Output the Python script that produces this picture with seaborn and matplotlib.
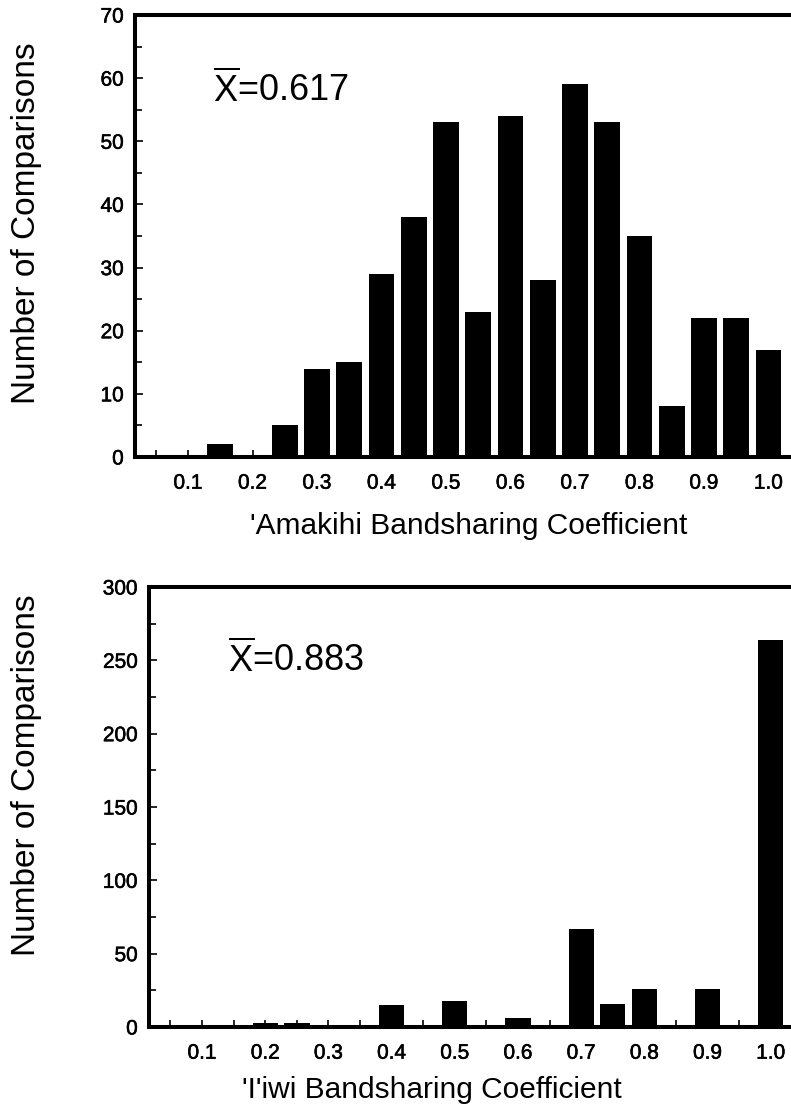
import numpy as np
import pandas as pd
import matplotlib
matplotlib.use("Agg")
import matplotlib.pyplot as plt
import matplotlib.patheffects as pe
from matplotlib.ticker import MultipleLocator, FixedLocator
import seaborn as sns

# ---- data ----
amakihi_bins = [0.15, 0.25, 0.30, 0.35, 0.40, 0.45, 0.50, 0.55, 0.60, 0.65,
                0.70, 0.75, 0.80, 0.85, 0.90, 0.95, 1.00]
amakihi_counts = [2, 5, 14, 15, 29, 38, 53, 23, 54, 28, 59, 53, 35, 8, 22, 22, 17]

iiwi_bins = [0.20, 0.25, 0.40, 0.50, 0.60, 0.70, 0.75, 0.80, 0.90, 1.00]
iiwi_counts = [3, 3, 15, 18, 6, 67, 16, 26, 26, 264]

x_tick_values = [0.1, 0.2, 0.3, 0.4, 0.5, 0.6, 0.7, 0.8, 0.9, 1.0]
x_tick_labels = ["0.1", "0.2", "0.3", "0.4", "0.5", "0.6", "0.7", "0.8", "0.9", "1.0"]

amakihi_mean = r"$\overline{\mathrm{X}}$=0.617"
iiwi_mean = r"$\overline{\mathrm{X}}$=0.883"
amakihi_xlabel = "'Amakihi Bandsharing Coefficient"
iiwi_xlabel = "'I'iwi Bandsharing Coefficient"
y_label = "Number of Comparisons"

# ---- style ----
sns.set_style("ticks")
plt.rcParams["font.family"] = ["Liberation Sans", "DejaVu Sans"]
plt.rcParams["mathtext.fontset"] = "custom"
plt.rcParams["mathtext.rm"] = "Liberation Sans"
plt.rcParams["mathtext.it"] = "Liberation Sans:italic"
plt.rcParams["mathtext.bf"] = "Liberation Sans:bold"

W, H = 791, 1110
fig = plt.figure(figsize=(W / 100, H / 100), dpi=100)

def px_axes(left, top, right, bottom):
    return fig.add_axes([left / W, 1 - bottom / H, (right - left) / W, (bottom - top) / H])

ax1 = px_axes(135, 15, 791, 457)
ax2 = px_axes(149, 587, 791, 1027)

heavy = [pe.withStroke(linewidth=0.4, foreground="black")]

def draw(ax, bins, counts, xlim, ylim, ymaj, ymin, mean_txt, mean_pos, xlabel,
         xlabel_coords, ylabel_coords):
    df = pd.DataFrame({"bin": bins, "count": counts})
    sns.barplot(data=df, x="bin", y="count", native_scale=True, color="black",
                saturation=1, width=0.8, errorbar=None, linewidth=0, ax=ax)
    ax.set_xlim(*xlim)
    ax.set_ylim(*ylim)
    ax.xaxis.set_major_locator(FixedLocator(x_tick_values))
    ax.set_xticklabels(x_tick_labels)
    ax.xaxis.set_minor_locator(FixedLocator([v - 0.05 for v in x_tick_values]))
    ax.yaxis.set_major_locator(MultipleLocator(ymaj))
    ax.yaxis.set_minor_locator(FixedLocator(np.arange(ymin, ylim[1], ymaj)))
    ax.tick_params(axis="both", which="both", direction="in", color="black",
                   width=1.2, labelsize=15, labelcolor="black")
    ax.tick_params(axis="x", which="both", length=5, pad=12)
    ax.tick_params(axis="y", which="major", length=6, pad=8)
    ax.tick_params(axis="y", which="minor", length=5)
    for lab in ax.get_xticklabels() + ax.get_yticklabels():
        lab.set_path_effects(heavy)
    for s in ["left", "bottom", "top"]:
        ax.spines[s].set_linewidth(2.9)
        ax.spines[s].set_color("black")
    ax.spines["right"].set_visible(False)
    ax.set_xlabel(xlabel, fontsize=21.5, color="black")
    ax.xaxis.set_label_coords(*xlabel_coords)
    ax.set_ylabel(y_label, fontsize=24, color="black")
    ax.yaxis.set_label_coords(*ylabel_coords)
    ax.text(mean_pos[0], mean_pos[1], mean_txt, transform=ax.transAxes,
            fontsize=26, ha="left", va="baseline", color="black")
    ax.set_facecolor("white")

draw(ax1, amakihi_bins, amakihi_counts, (0.0178, 1.035), (0, 70), 10, 5,
     amakihi_mean, (0.119, 0.803), amakihi_xlabel, (0.508, -0.125), (-0.142, 0.529))
draw(ax2, iiwi_bins, iiwi_counts, (0.016, 1.032), (0, 300), 50, 25,
     iiwi_mean, (0.123, 0.807), iiwi_xlabel, (0.44, -0.111), (-0.167, 0.573))

fig.savefig("out.png", dpi=100, facecolor="white")
